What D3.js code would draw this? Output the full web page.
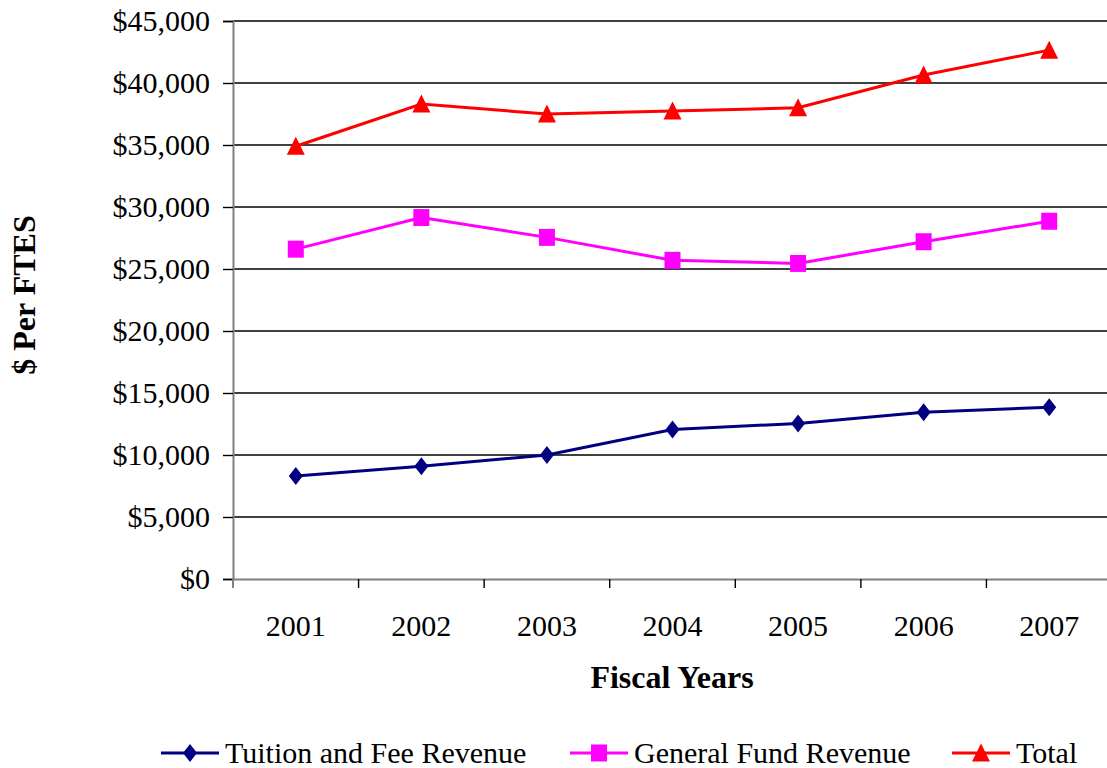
<!DOCTYPE html>
<html>
<head>
<meta charset="utf-8">
<script src="https://cdn.jsdelivr.net/npm/d3@7"></script>
<style>
  html, body { margin: 0; padding: 0; background: #fff; }
  svg { display: block; font-family: "Liberation Serif", "Times New Roman", serif; }
</style>
</head>
<body>
<svg id="chart" width="1107" height="768"></svg>
<script>
// Fiscal years and revenue per FTES
const years = ["2001", "2002", "2003", "2004", "2005", "2006", "2007"];
const tuitionFee = [8300, 9100, 10000, 12050, 12550, 13450, 13850];
const generalFund = [26600, 29150, 27550, 25700, 25450, 27200, 28850];
const total = [34900, 38300, 37500, 37750, 38000, 40650, 42650];
const yTicks = [0, 5000, 10000, 15000, 20000, 25000, 30000, 35000, 40000, 45000];
const seriesNames = ["Tuition and Fee Revenue", "General Fund Revenue", "Total"];

const series = [
  { name: seriesNames[0], values: tuitionFee, color: "#000080", marker: "diamond" },
  { name: seriesNames[1], values: generalFund, color: "#FF00FF", marker: "square" },
  { name: seriesNames[2], values: total, color: "#FF0000", marker: "triangle" }
];

const svg = d3.select("#chart");
const plot = { left: 233, right: 1112, top: 21, bottom: 579 };
const fontSize = 30;
const titleSize = 32;
const serif = "Liberation Serif, Times New Roman, serif";

const x = d3.scaleBand().domain(years).range([plot.left, plot.right]).padding(0);
const y = d3.scaleLinear().domain([0, 45000]).range([plot.bottom, plot.top]);
const cx = d => x(d) + x.bandwidth() / 2;

// Horizontal gridlines
svg.append("g")
  .selectAll("line")
  .data(yTicks.filter(t => t > 0))
  .join("line")
  .attr("x1", plot.left).attr("x2", plot.right)
  .attr("y1", d => y(d)).attr("y2", d => y(d))
  .attr("stroke", "#000").attr("stroke-width", 1.4);

// Y axis
const yAxis = svg.append("g")
  .attr("transform", `translate(${plot.left},0)`)
  .call(d3.axisLeft(y).tickValues(yTicks).tickSize(10).tickPadding(13)
    .tickFormat(d => "$" + d3.format(",")(d)));
yAxis.select(".domain").attr("stroke", "#808080").attr("stroke-width", 2);
yAxis.selectAll(".tick line").attr("stroke", "#000").attr("stroke-width", 1.4);
yAxis.selectAll(".tick text")
  .attr("font-size", fontSize).attr("fill", "#000")
  .attr("font-family", serif);

// X axis: labels centred in each band, ticks on band boundaries
const xAxis = svg.append("g")
  .attr("transform", `translate(0,${plot.bottom})`)
  .call(d3.axisBottom(x).tickSize(0).tickPadding(36).tickSizeOuter(0));
xAxis.select(".domain").attr("stroke", "#808080").attr("stroke-width", 2);
xAxis.selectAll(".tick text")
  .attr("font-size", fontSize).attr("fill", "#000")
  .attr("font-family", serif);
svg.append("g")
  .selectAll("line")
  .data(years.slice(1))
  .join("line")
  .attr("x1", d => x(d)).attr("x2", d => x(d))
  .attr("y1", plot.bottom).attr("y2", plot.bottom + 9)
  .attr("stroke", "#000").attr("stroke-width", 1.4);
svg.append("line")
  .attr("x1", plot.left).attr("x2", plot.left)
  .attr("y1", plot.bottom).attr("y2", plot.bottom + 9)
  .attr("stroke", "#808080").attr("stroke-width", 2);

// Marker shapes
function markerPath(type) {
  if (type === "diamond") return "M0,-9 L7,0 L0,9 L-7,0 Z";
  if (type === "square") return "M-8,-8.5 L8,-8.5 L8,8.5 L-8,8.5 Z";
  return "M0,-9.5 L9,8.5 L-9,8.5 Z";
}

// Series lines and markers
const line = d3.line().x((d, i) => cx(years[i])).y(d => y(d));
series.forEach(s => {
  svg.append("path")
    .datum(s.values)
    .attr("d", line)
    .attr("fill", "none")
    .attr("stroke", s.color)
    .attr("stroke-width", 3);
  svg.append("g")
    .selectAll("path")
    .data(s.values)
    .join("path")
    .attr("transform", (d, i) => `translate(${cx(years[i])},${y(d)})`)
    .attr("d", markerPath(s.marker))
    .attr("fill", s.color);
});

// Axis titles
svg.append("text")
  .attr("transform", "translate(35,295) rotate(-90)")
  .attr("text-anchor", "middle")
  .attr("font-size", titleSize).attr("font-weight", "bold")
  .text("$ Per FTES");
svg.append("text")
  .attr("x", 672).attr("y", 688)
  .attr("text-anchor", "middle")
  .attr("font-size", titleSize).attr("font-weight", "bold")
  .text("Fiscal Years");

// Legend
const legendX = [161, 570, 952];
const legendY = 753;
const legend = svg.append("g");
series.forEach((s, i) => {
  const g = legend.append("g").attr("transform", `translate(${legendX[i]},${legendY})`);
  g.append("line").attr("x1", 0).attr("x2", 58).attr("y1", 0).attr("y2", 0)
    .attr("stroke", s.color).attr("stroke-width", 3);
  g.append("path").attr("transform", "translate(29,0)")
    .attr("d", markerPath(s.marker)).attr("fill", s.color);
  g.append("text").attr("x", 64).attr("y", 10)
    .attr("font-size", fontSize).attr("fill", "#000")
    .text(s.name);
});
</script>
</body>
</html>
